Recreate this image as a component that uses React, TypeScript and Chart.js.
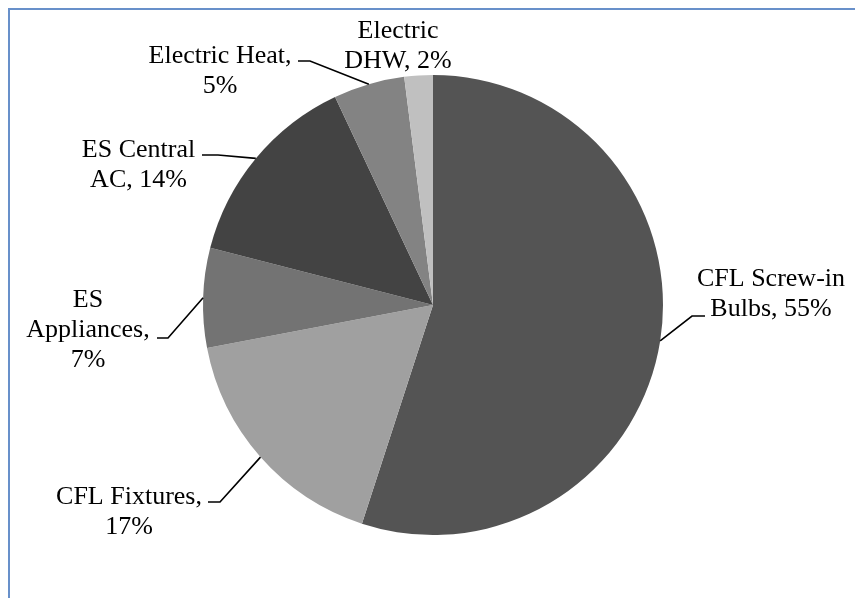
import { useEffect, useRef } from "react";
import { Chart, registerables } from "chart.js";

Chart.register(...registerables);

// ---- data ----
const categories = [
  "CFL Screw-in Bulbs",
  "CFL Fixtures",
  "ES Appliances",
  "ES Central AC",
  "Electric Heat",
  "Electric DHW",
];
const shares = [55, 17, 7, 14, 5, 2];
const labelLines = [
  ["CFL Screw-in", "Bulbs, 55%"],
  ["CFL Fixtures,", "17%"],
  ["ES", "Appliances,", "7%"],
  ["ES Central", "AC, 14%"],
  ["Electric Heat,", "5%"],
  ["Electric", "DHW, 2%"],
];

// ---- styles / layout ----
const sliceColors = ["#545454", "#a0a0a0", "#737373", "#434343", "#838383", "#c0c0c0"];
// offsets relative to pie center: text center x, first baseline y, leader elbow (x1 -> x2 at y)
const labelLayout = [
  { cx: 338, by: -19, elbow: [272, 259, 11] },
  { cx: -304, by: 199, elbow: [-225, -213, 197] },
  { cx: -345, by: 2, elbow: [-276, -265, 33] },
  { cx: -294.5, by: -148, elbow: [-231, -215, -150] },
  { cx: -213, by: -242, elbow: [-135, -123, -244] },
  { cx: -35, by: -267, elbow: null as null | number[] },
];
const LINE_H = 30;

const labelPlugin = {
  id: "pieLabels",
  afterDraw(chart: any) {
    const meta = chart.getDatasetMeta(0);
    const ctx = chart.ctx as CanvasRenderingContext2D;
    ctx.save();
    meta.data.forEach((arc: any, i: number) => {
      const { x, y, startAngle, endAngle, outerRadius } = arc.getProps(
        ["x", "y", "startAngle", "endAngle", "outerRadius"],
        true
      );
      const lay = labelLayout[i];
      if (lay.elbow) {
        const mid = (startAngle + endAngle) / 2;
        const ex = x + Math.cos(mid) * outerRadius;
        const ey = y + Math.sin(mid) * outerRadius;
        ctx.beginPath();
        ctx.strokeStyle = "#000";
        ctx.lineWidth = 1.6;
        ctx.moveTo(x + lay.elbow[0], y + lay.elbow[2]);
        ctx.lineTo(x + lay.elbow[1], y + lay.elbow[2]);
        ctx.lineTo(ex, ey);
        ctx.stroke();
      }
      ctx.fillStyle = "#000";
      ctx.font = '26px "Liberation Serif", "Times New Roman", serif';
      ctx.textAlign = "center";
      ctx.textBaseline = "alphabetic";
      labelLines[i].forEach((line, j) => {
        ctx.fillText(line, x + lay.cx, y + lay.by + j * LINE_H);
      });
    });
    ctx.restore();
  },
};

export default function App() {
  const canvasRef = useRef<HTMLCanvasElement | null>(null);

  useEffect(() => {
    document.body.style.overflow = "hidden";
    const canvas = canvasRef.current;
    if (!canvas) return;
    const chart = new Chart(canvas, {
      type: "pie",
      data: {
        labels: categories,
        datasets: [
          {
            data: shares,
            backgroundColor: sliceColors,
            borderWidth: 0,
            hoverOffset: 0,
          },
        ],
      },
      options: {
        responsive: false,
        animation: false,
        layout: { padding: { left: 203, right: 192, top: 75, bottom: 63 } },
        plugins: {
          legend: { display: false },
          tooltip: { enabled: false },
        },
        events: [],
      },
      plugins: [labelPlugin],
    });
    return () => chart.destroy();
  }, []);

  return (
    <>
      <div
        style={{
          position: "fixed",
          left: 8,
          top: 8,
          width: 860,
          height: 600,
          boxSizing: "border-box",
          borderTop: "2px solid #6890ca",
          borderLeft: "2px solid #6890ca",
        }}
      />
      <canvas
        ref={canvasRef}
        width={855}
        height={598}
        style={{ position: "fixed", left: 0, top: 0, width: 855, height: 598 }}
      />
    </>
  );
}
